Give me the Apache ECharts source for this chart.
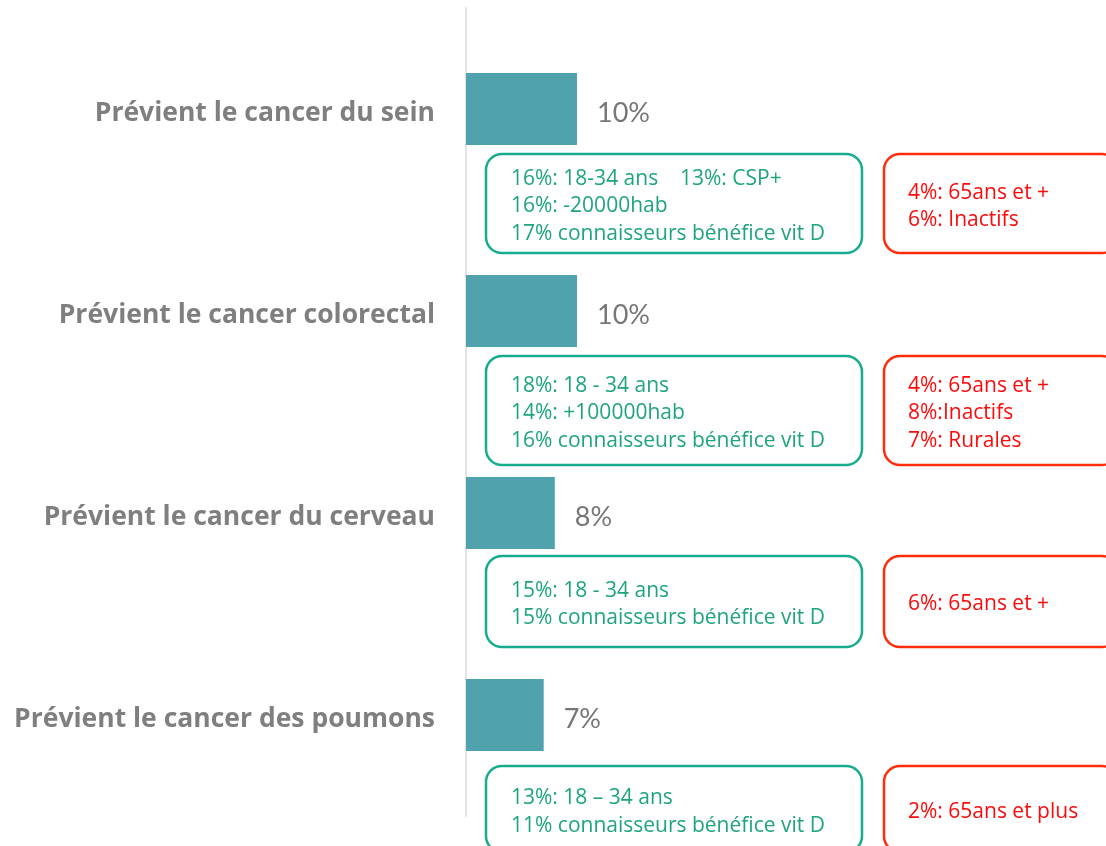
<!DOCTYPE html>
<html>
<head>
<meta charset="utf-8">
<script src="https://cdn.jsdelivr.net/npm/echarts@6/dist/echarts.min.js"></script>
<style>
  html, body { margin: 0; padding: 0; background: #fff; }
  #chart { width: 1106px; height: 846px; }
</style>
</head>
<body>
<div id="chart"></div>
<script>
// données
const categories = [
  'Prévient le cancer du sein',
  'Prévient le cancer colorectal',
  'Prévient le cancer du cerveau',
  'Prévient le cancer des poumons'
];
const values = [10, 10, 8, 7];

// encadrés verts (sur-représentés) et rouges (sous-représentés)
const greenNotes = [
  ['16%: 18-34 ans    13%: CSP+', '16%: -20000hab', '17% connaisseurs bénéfice vit D'],
  ['18%: 18 - 34 ans', '14%: +100000hab', '16% connaisseurs bénéfice vit D'],
  ['15%: 18 - 34 ans', '15% connaisseurs bénéfice vit D'],
  ['13%: 18 – 34 ans', '11% connaisseurs bénéfice vit D']
];
const redNotes = [
  ['4%: 65ans et +', '6%: Inactifs'],
  ['4%: 65ans et +', '8%:Inactifs', '7%: Rurales'],
  ['6%: 65ans et +'],
  ['2%: 65ans et plus']
];

// position des encadrés par rapport au centre de la barre (top, hauteur)
const boxLayout = [
  { top: 45, h: 99 },
  { top: 45, h: 109 },
  { top: 43, h: 91 },
  { top: 51, h: 86 }
];

const chart = echarts.init(document.getElementById('chart'));

const option = {
  backgroundColor: '#fff',
  animation: false,
  grid: { left: 466, top: 8, bottom: 30, right: 85 },
  xAxis: {
    type: 'value',
    min: 0,
    max: 50,
    show: false
  },
  yAxis: {
    type: 'category',
    inverse: true,
    data: categories,
    axisLine: { show: true, lineStyle: { color: '#e3e3e3', width: 2 } },
    axisTick: { show: false },
    axisLabel: {
      margin: 31,
      fontSize: 26.5,
      fontWeight: 'bold',
      fontFamily: 'Open Sans',
      color: '#7f7f7f',
      verticalAlign: 'top',
      lineHeight: 8
    }
  },
  series: [
    {
      type: 'bar',
      data: values,
      barWidth: 72,
      itemStyle: { color: '#50a3ad' },
      label: {
        show: true,
        position: 'right',
        distance: 20,
        offset: [0, 4],
        formatter: '{c}%',
        fontSize: 27,
        fontFamily: 'Lato',
        color: '#767676'
      }
    }
  ]
};

chart.setOption(option);

// encadrés placés à partir des axes
const x0 = chart.convertToPixel({ xAxisIndex: 0 }, 0);
const graphics = [];
categories.forEach(function (cat, i) {
  const cy = chart.convertToPixel({ yAxisIndex: 0 }, cat);
  const top = cy + boxLayout[i].top;
  const h = boxLayout[i].h;
  const gx = x0 + 20;
  const rx = x0 + 418;
  graphics.push({
    type: 'rect',
    shape: { x: gx, y: top, width: 376, height: h, r: 16 },
    style: { fill: '#fff', stroke: '#16ad8e', lineWidth: 2.5 }
  });
  graphics.push({
    type: 'text',
    style: {
      x: gx + 25, y: top + h / 2 + 3,
      text: greenNotes[i].join('\n'),
      fill: '#1ea57d',
      font: '21px "Open Sans"',
      lineHeight: 27.5,
      verticalAlign: 'middle'
    }
  });
  graphics.push({
    type: 'rect',
    shape: { x: rx, y: top, width: 234, height: h, r: 16 },
    style: { fill: '#fff', stroke: '#ff2d0c', lineWidth: 2.5 }
  });
  graphics.push({
    type: 'text',
    style: {
      x: rx + 24, y: top + h / 2 + 3,
      text: redNotes[i].join('\n'),
      fill: '#ff0a0a',
      font: '21px "Open Sans"',
      lineHeight: 27.5,
      verticalAlign: 'middle'
    }
  });
});
chart.setOption({ graphic: graphics });

window.onresize = function () {
  chart.resize();
};
</script>
</body>
</html>
